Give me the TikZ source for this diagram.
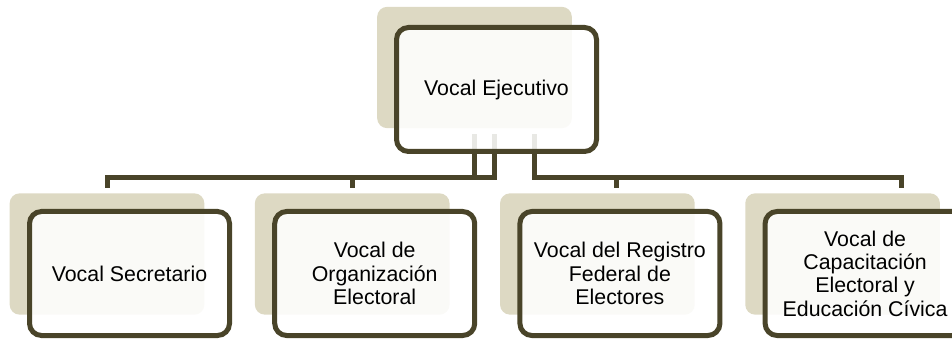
\documentclass[tikz,border=0pt]{standalone}
\usepackage{fontspec}
\setmainfont{Liberation Sans}
\usepackage{tikz}
\usetikzlibrary{positioning,calc}

\definecolor{vocaltan}{HTML}{DDD9C3}
\definecolor{vocalline}{HTML}{494429}

\tikzset{
	back/.style={rectangle, rounded corners=7.5pt, fill=vocaltan, minimum width=146pt, minimum height=91pt, inner sep=0pt},
	vocal/.style={rectangle, rounded corners=9pt, draw=vocalline, line width=3.75pt, fill=white, fill opacity=0.88, text opacity=1, minimum width=150pt, minimum height=93pt, inner sep=0pt, align=center, font=\fontsize{16}{17.5}\selectfont},
	link/.style={draw=vocalline, line width=3.75pt, shorten >=3.75pt}
}

\begin{document}
\begin{tikzpicture}[x=0.75pt, y=0.75pt]
		\useasboundingbox (0,0) rectangle (952,339);
		
		\node [back] (b0) at (474.5,271.5) {};
		\node [back] (b1) at (107,85) {};
		\node [back, right=37.5pt of b1] (b2) {};
		\node [back, right=37.5pt of b2] (b3) {};
		\node [back, right=37.5pt of b3] (b4) {};
		
		\coordinate (bar) at (0,161);
		\coordinate (p1) at ($(b0.south)+(0,-6)$);
		\coordinate (p2) at ($(b0.south)+(20,-6)$);
		\coordinate (p3) at ($(b0.south)+(60,-6)$);
		
		\draw[link] (p1) -- (p1 |- bar) -| (b1.north);
		\draw[link] (p2) -- (p2 |- bar) -| (b2.north);
		\draw[link] (p3) -- (p3 |- bar) -| ($(b3.north)+(19.5,0)$);
		\draw[link] (p3) -- (p3 |- bar) -| ($(b4.north)+(59,0)$);
		
		\node [vocal, shift={(22,-22)}] (v0) at (b0.center) {Vocal Ejecutivo};
		\node [vocal, shift={(22.5,-19.5)}] (v1) at (b1.center) {Vocal Secretario};
		\node [vocal, shift={(22.5,-19.5)}] (v2) at (b2.center) {Vocal de\\Organización\\Electoral};
		\node [vocal, shift={(22.5,-19.5)}] (v3) at (b3.center) {Vocal del Registro\\Federal de\\Electores};
		\node [vocal, shift={(22.5,-19.5)}] (v4) at (b4.center) {Vocal de\\Capacitación\\Electoral y\\Educación Cívica};
	\end{tikzpicture}
\end{document}
